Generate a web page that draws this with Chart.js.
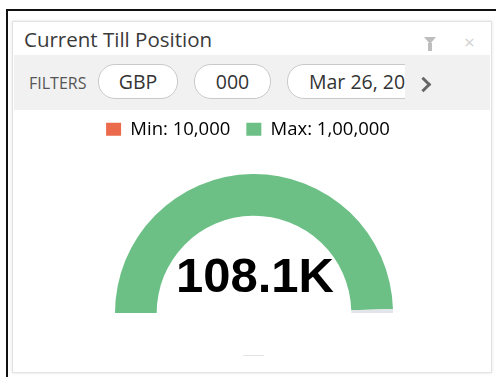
<!DOCTYPE html>
<html>
<head>
<meta charset="utf-8">
<script src="https://cdn.jsdelivr.net/npm/chart.js@4.4.1/dist/chart.umd.min.js"></script>
<style>
  html, body { margin: 0; padding: 0; background: #fff; }
  body { width: 496px; height: 377px; position: relative; overflow: hidden; font-family: "Open Sans", sans-serif; }
  .frame { position: absolute; left: 6px; top: 9px; width: 600px; height: 500px; border: 2px solid #111; }
  .panel { position: absolute; left: 12px; top: 21px; width: 478px; height: 350px; border: 1px solid #e2e2e2;
           box-shadow: 0 0 3px rgba(0,0,0,0.12); background: #fff; }
  .title { position: absolute; left: 11px; top: 3px; font-size: 20.5px; color: #3a3a3a; }
  .funnel { position: absolute; left: 411px; top: 15px; width: 0; height: 0;
            border-left: 6px solid transparent; border-right: 6px solid transparent; border-top: 7px solid #bdbdbd; }
  .funnel:after { content: ""; position: absolute; left: -2px; top: -1px; width: 4px; height: 8px; background: #bdbdbd; }
  .close { position: absolute; left: 451px; top: 7px; color: #d2d2d2; font-size: 19px; }
  .filters { position: absolute; left: 1px; top: 33px; width: 476px; height: 55px; background: #f1f1f1; overflow: hidden; }
  .flabel { position: absolute; left: 15px; top: 17px; font-size: 16px; color: #555; }
  .pill { position: absolute; top: 9px; height: 33px; border: 1px solid #c9c9c9; border-radius: 17px; background: #fff;
          font-size: 19.5px; color: #333; line-height: 33px; text-align: center; }
  .chev { position: absolute; left: 404px; top: 24px; width: 8px; height: 8px;
          border-top: 3px solid #666; border-right: 3px solid #666; transform: rotate(45deg); }
  .dash { position: absolute; left: 243px; top: 355px; width: 21px; height: 1px; background: #e4e4e4; }
  .chart-box { position: absolute; left: 64px; top: 104px; width: 380px; height: 209px; }
</style>
</head>
<body>
<div class="frame"></div>
<div class="panel">
  <div class="title">Current Till Position</div>
  <div class="funnel"></div>
  <div class="close">&#215;</div>
  <div class="filters">
    <div class="flabel">FILTERS</div>
    <div class="pill" style="left:84px;width:78px;">GBP</div>
    <div class="pill" style="left:180px;width:75px;">000</div>
    <div class="pill" style="left:273px;width:160px;text-align:left;padding-left:21px;clip-path:inset(0 65px 0 0);">Mar 26, 2024</div>
    <div class="chev"></div>
  </div>
</div>
<div class="dash"></div>
<div class="chart-box"><canvas id="gauge"></canvas></div>

<script>
// gauge data
var gaugeLabels = ['Till Position', 'Remaining'];
var gaugeValues = [108100, 1000];
var gaugeColors = ['#6cc086', '#e2e5e9'];
var centerText = '108.1K';

// legend entries
var legendLabels = ['Min: 10,000', 'Max: 1,00,000'];
var legendColors = ['#ea6a4b', '#6cc086'];

// prints the value in the middle of the half ring
var centerLabel = {
    id: 'centerLabel',
    afterDatasetsDraw: function(chart) {
        var arc = chart.getDatasetMeta(0).data[0];
        var ctx = chart.ctx;
        ctx.save();
        ctx.font = 'bold 49px "Liberation Sans", Arial, sans-serif';
        ctx.fillStyle = '#000';
        ctx.textAlign = 'center';
        ctx.textBaseline = 'alphabetic';
        ctx.fillText(centerText, arc.x + 1, arc.y - 21);
        ctx.restore();
    }
};

// more room under the legend, and nudge it a little to the left
var legendSpacing = {
    id: 'legendSpacing',
    beforeInit: function(chart) {
        var fit = chart.legend.fit;
        chart.legend.fit = function() {
            fit.bind(chart.legend)();
            this.height += 25.5;
        };
    },
    afterLayout: function(chart) {
        chart.legend.left -= 6;
        chart.legend.right -= 6;
    }
};

new Chart(document.getElementById('gauge'), {
    type: 'doughnut',
    data: {
        labels: gaugeLabels,
        datasets: [{
            data: gaugeValues,
            backgroundColor: gaugeColors,
            borderWidth: 0
        }]
    },
    options: {
        responsive: true,
        maintainAspectRatio: false,
        animation: false,
        rotation: -90,
        circumference: 180,
        cutout: '70%',
        layout: { padding: 0 },
        plugins: {
            tooltip: { enabled: false },
            legend: {
                position: 'top',
                labels: {
                    padding: 16,
                    boxWidth: 15,
                    boxHeight: 13,
                    color: '#4a4a4a',
                    font: { family: '"Open Sans", sans-serif', size: 18.5 },
                    generateLabels: function() {
                        return legendLabels.map(function(text, i) {
                            return { text: text, fillStyle: legendColors[i], strokeStyle: legendColors[i], lineWidth: 0, index: i };
                        });
                    }
                }
            }
        }
    },
    plugins: [centerLabel, legendSpacing]
});
</script>
</body>
</html>
